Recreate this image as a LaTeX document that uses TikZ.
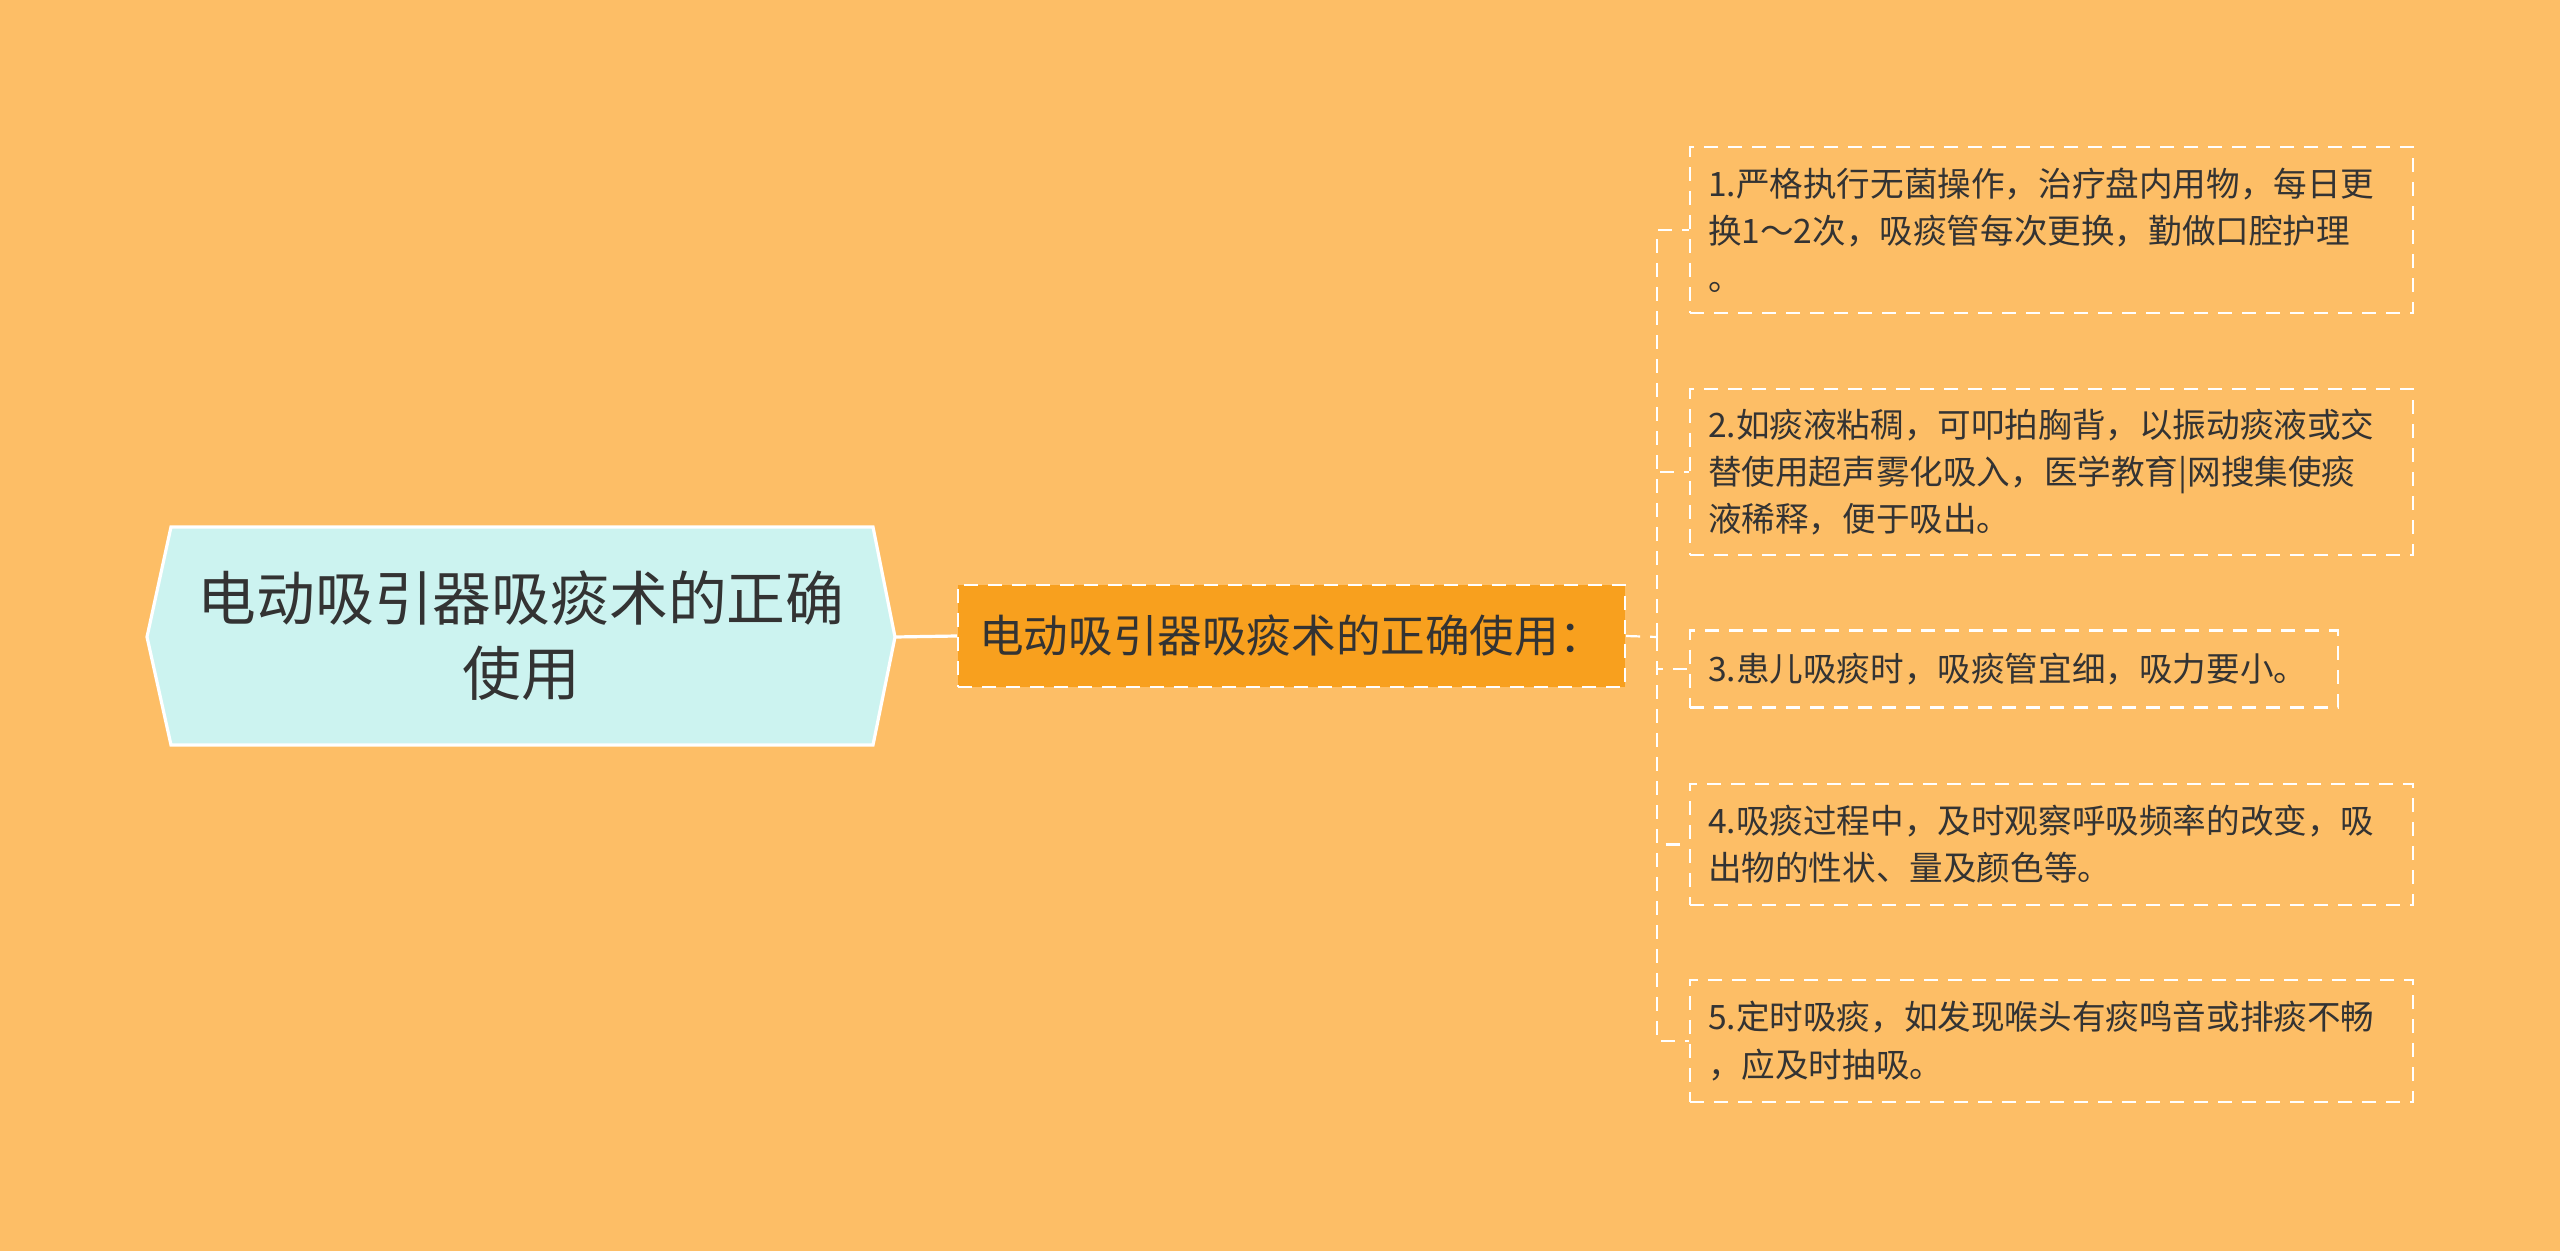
\documentclass[tikz,border=0pt]{standalone}
\usepackage{fontspec}
\setmainfont{Noto Sans CJK SC}
\definecolor{bg}{HTML}{FDBE66}
\definecolor{rootfill}{HTML}{CCF3F0}
\definecolor{childfill}{HTML}{F8A01E}
\definecolor{txt}{HTML}{333333}
\begin{document}
\begin{tikzpicture}[x=0.5pt,y=-0.5pt,
  rootshape/.style={fill=rootfill,draw=white,line width=1.6pt,line join=miter},
  roottext/.style={align=center,text=txt,font=\fontsize{29.4pt}{37.5pt}\selectfont,inner sep=0pt},
  childbox/.style={fill=childfill,draw=white,line width=1.1pt,dash pattern=on 7pt off 5pt,
    text=txt,font=\fontsize{22.3pt}{26pt}\selectfont,align=center,minimum width=333.5pt,minimum height=51pt,inner sep=0pt},
  leafbox/.style={draw=white,line width=1.1pt,dash pattern=on 7pt off 5pt,text=txt,
    font=\fontsize{16.8pt}{23.6pt}\selectfont,align=left,inner xsep=9pt,inner ysep=0pt,
    text width=343.5pt},
  conn/.style={draw=white,line width=1.1pt,dash pattern=on 7pt off 5pt},
  rootconn/.style={draw=white,line width=1.6pt}]
\fill[bg] (0,0) rectangle (2560,1251);
\useasboundingbox (0,0) rectangle (2560,1251);
% root
\filldraw[rootshape] (147,637) -- (171,527) -- (873,527) -- (895,637) -- (873,745) -- (171,745) -- cycle;
\node[roottext] (root) at (521,636) {电动吸引器吸痰术的正确\\使用};
\coordinate (rootE) at (895,637);
% child
\node[childbox] (child) at (1291.5,636) {电动吸引器吸痰术的正确使用：};
\draw[rootconn] (rootE) -- (child.west);
% leaves
\node[leafbox,minimum height=83pt] (l1) at (2051.5,230) {1.严格执行无菌操作，治疗盘内用物，每日更\\换1～2次，吸痰管每次更换，勤做口腔护理\\。};
\node[leafbox,minimum height=83pt] (l2) at (2051.5,472) {2.如痰液粘稠，可叩拍胸背，以振动痰液或交\\替使用超声雾化吸入，医学教育|网搜集使痰\\液稀释，便于吸出。};
\node[leafbox,minimum height=38.5pt,text width=306pt] (l3) at (2014,669) {3.患儿吸痰时，吸痰管宜细，吸力要小。};
\node[leafbox,minimum height=60.5pt] (l4) at (2051.5,844.5) {4.吸痰过程中，及时观察呼吸频率的改变，吸\\出物的性状、量及颜色等。};
\node[leafbox,minimum height=61pt] (l5) at (2051.5,1041) {5.定时吸痰，如发现喉头有痰鸣音或排痰不畅\\，应及时抽吸。};
% connectors
\coordinate (jn) at (1657,637);
\draw[conn] (child.east) -- (jn);
\foreach \n in {l1,l2,l3,l4,l5}{\draw[conn] (jn) |- (\n.west);}
\end{tikzpicture}
\end{document}
